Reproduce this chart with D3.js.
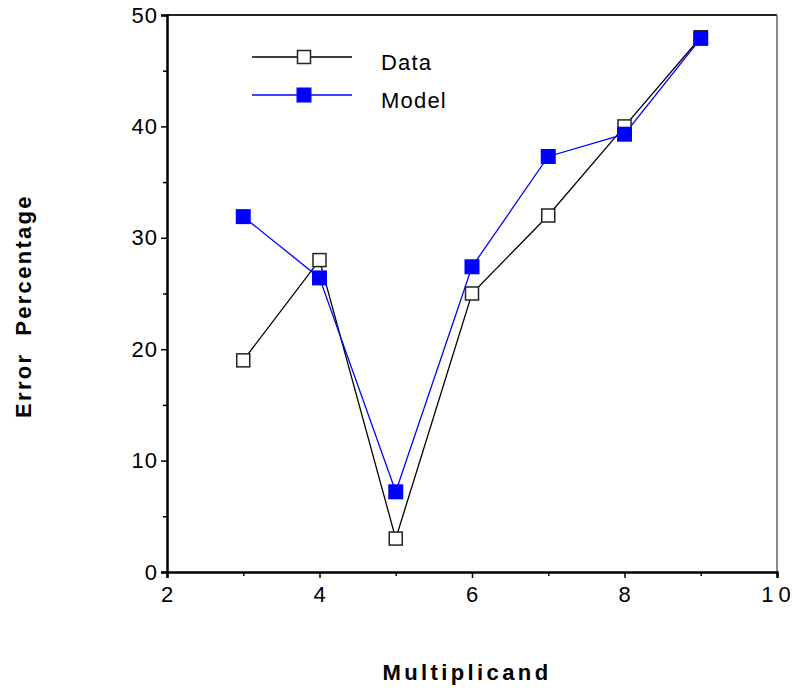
<!DOCTYPE html>
<html>
<head>
<meta charset="utf-8">
<script src="https://cdn.jsdelivr.net/npm/d3@7"></script>
<style>
  body { margin: 0; background: #fff; }
  text { font-family: Arial, "Liberation Sans", sans-serif; }
</style>
</head>
<body>
<script>
// chart values
var multiplicand = [3, 4, 5, 6, 7, 8, 9];
var dataValues = [19, 28, 3, 25, 32, 40, 48];
var modelValues = [31.9, 26.4, 7.2, 27.4, 37.3, 39.3, 47.9];
var xTicks = [2, 4, 6, 8, 10];
var yTicks = [0, 10, 20, 30, 40, 50];
var seriesNames = ["Data", "Model"];

var width = 796, height = 691;
var margin = { left: 167, right: 19, top: 15, bottom: 119 };
var font = "Arial, 'Liberation Sans', sans-serif";

var svg = d3.select("body").append("svg")
    .attr("width", width)
    .attr("height", height);

var x = d3.scaleLinear().domain([2, 10]).range([margin.left, width - margin.right]);
var y = d3.scaleLinear().domain([0, 50]).range([height - margin.bottom, margin.top]);

// frame top/right
svg.append("line")
    .attr("x1", x(2)).attr("x2", x(10))
    .attr("y1", y(50)).attr("y2", y(50))
    .attr("stroke", "#222").attr("stroke-width", 2);
svg.append("line")
    .attr("x1", x(10)).attr("x2", x(10))
    .attr("y1", y(0)).attr("y2", y(50))
    .attr("stroke", "#666").attr("stroke-width", 1.5);

// x axis
var xAxis = svg.append("g")
    .attr("transform", "translate(0," + y(0) + ")")
    .call(d3.axisBottom(x).tickValues(xTicks).tickSize(6).tickPadding(8)
      .tickFormat(function(d) { return d; }));
svg.append("g")
    .attr("transform", "translate(0," + y(0) + ")")
    .call(d3.axisBottom(x).tickValues([3, 5, 7, 9]).tickSize(4).tickFormat(""))
    .call(function(g) { g.select(".domain").remove(); });

// y axis
var yAxis = svg.append("g")
    .attr("transform", "translate(" + x(2) + ",0)")
    .call(d3.axisLeft(y).tickValues(yTicks).tickSize(6).tickPadding(4));
svg.append("g")
    .attr("transform", "translate(" + x(2) + ",0)")
    .call(d3.axisLeft(y).tickValues([5, 15, 25, 35, 45]).tickSize(4).tickFormat(""))
    .call(function(g) { g.select(".domain").remove(); });

svg.selectAll(".domain").attr("stroke", "#000").attr("stroke-width", 2.5);
svg.selectAll(".tick line").attr("stroke", "#000").attr("stroke-width", 1.5);
svg.selectAll(".tick text")
    .attr("fill", "#000")
    .style("font-size", "22px")
    .style("letter-spacing", "1px")
    .style("font-family", font);
yAxis.selectAll(".tick text").attr("dx", 1);
// the last x label is spread out in the original
xAxis.selectAll(".tick text").filter(function(d) { return d == 10; })
    .style("letter-spacing", "5px").attr("dx", 1);

// axis titles
svg.append("text")
    .attr("x", 467)
    .attr("y", 680)
    .attr("text-anchor", "middle")
    .style("font-size", "22px")
    .style("font-weight", "bold")
    .style("letter-spacing", "3.4px")
    .text("Multiplicand");

svg.append("text")
    .attr("transform", "translate(31,306) rotate(-90)")
    .attr("text-anchor", "middle")
    .style("font-size", "22px")
    .style("font-weight", "bold")
    .style("letter-spacing", "2.3px")
    .style("white-space", "pre")
    .text("Error  Percentage");

// lines
var line = d3.line()
    .x(function(d) { return x(d[0]); })
    .y(function(d) { return y(d[1]); });

var dataPts = multiplicand.map(function(m, i) { return [m, dataValues[i]]; });
var modelPts = multiplicand.map(function(m, i) { return [m, modelValues[i]]; });

svg.append("path").datum(dataPts)
    .attr("d", line).attr("fill", "none")
    .attr("stroke", "#000").attr("stroke-width", 1.3);
svg.append("path").datum(modelPts)
    .attr("d", line).attr("fill", "none")
    .attr("stroke", "#0000ff").attr("stroke-width", 1.3);

var s = 13;
svg.append("g").selectAll("rect").data(dataPts).enter().append("rect")
    .attr("x", function(d) { return x(d[0]) - s / 2; })
    .attr("y", function(d) { return y(d[1]) - s / 2; })
    .attr("width", s).attr("height", s)
    .attr("fill", "#fff").attr("stroke", "#222").attr("stroke-width", 1.5);
svg.append("g").selectAll("rect").data(modelPts).enter().append("rect")
    .attr("x", function(d) { return x(d[0]) - 7.5; })
    .attr("y", function(d) { return y(d[1]) - 7.5; })
    .attr("width", 15).attr("height", 15)
    .attr("fill", "#0000ff");

// legend
var legend = svg.append("g");
seriesNames.forEach(function(name, i) {
  var ly = 57 + i * 38;
  var col = i == 0 ? "#000" : "#0000ff";
  legend.append("line")
      .attr("x1", 252).attr("x2", 352)
      .attr("y1", ly).attr("y2", ly)
      .attr("stroke", col).attr("stroke-width", 1.3);
  if (i == 0) {
    legend.append("rect")
        .attr("x", 304 - s / 2).attr("y", ly - s / 2)
        .attr("width", s).attr("height", s)
        .attr("fill", "#fff").attr("stroke", "#222").attr("stroke-width", 1.5);
  } else {
    legend.append("rect")
        .attr("x", 304 - 7.5).attr("y", ly - 7.5)
        .attr("width", 15).attr("height", 15)
        .attr("fill", "#0000ff");
  }
  legend.append("text")
      .attr("x", 381).attr("y", ly + 13)
      .style("font-size", "22px")
      .style("letter-spacing", "1.2px")
      .text(name);
});
</script>
</body>
</html>
